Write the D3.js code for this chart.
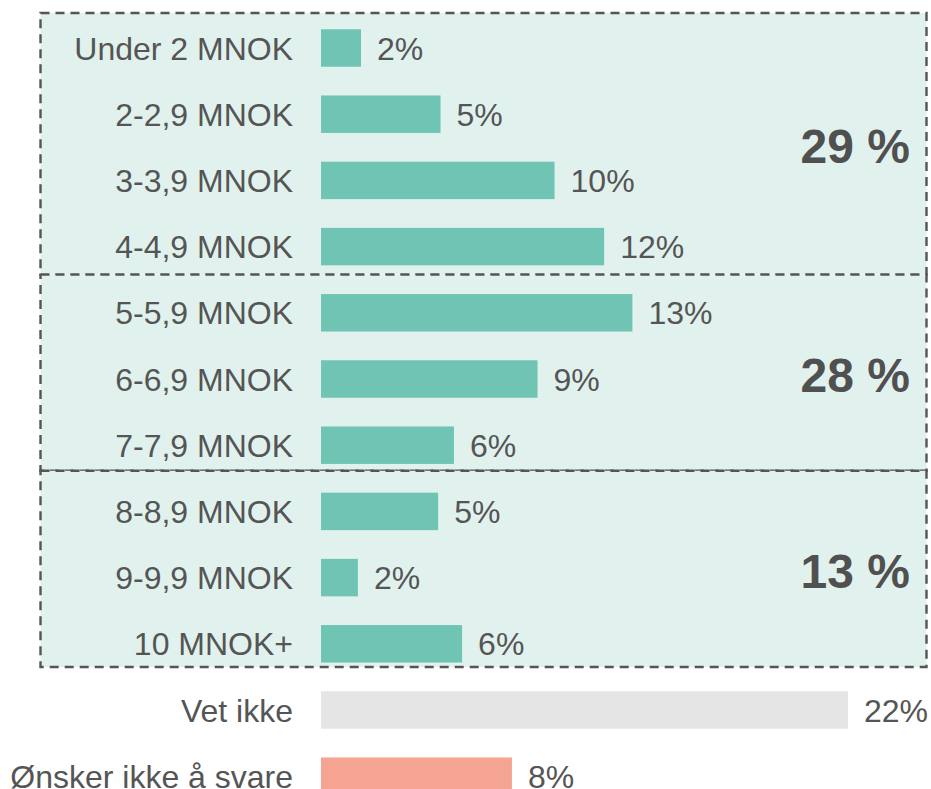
<!DOCTYPE html>
<html>
<head>
<meta charset="utf-8">
<script src="https://cdn.jsdelivr.net/npm/d3@7"></script>
<style>
    body { margin: 0; background: #fff; }
    svg { display: block; font-family: 'Liberation Sans', Arial, sans-serif; }
    .cat-label, .value-label { font-size: 32px; fill: #555; }
    .group-label { font-size: 48px; font-weight: bold; fill: #505050; }
    .group-box { fill: #e1f2ee; stroke: #555; stroke-width: 2.4; stroke-dasharray: 9 6; }
</style>
</head>
<body>
<svg id="chart"></svg>
<script>
// income categories and share of respondents (%)
const categories = [
    'Under 2 MNOK', '2-2,9 MNOK', '3-3,9 MNOK', '4-4,9 MNOK',
    '5-5,9 MNOK', '6-6,9 MNOK', '7-7,9 MNOK',
    '8-8,9 MNOK', '9-9,9 MNOK', '10 MNOK+',
    'Vet ikke', 'Ønsker ikke å svare'
];
const values = [1.67, 4.99, 9.75, 11.82, 13.0, 9.04, 5.55, 4.89, 1.54, 5.89, 22.0, 7.97];
const kinds = ['inc', 'inc', 'inc', 'inc', 'inc', 'inc', 'inc', 'inc', 'inc', 'inc', 'dk', 'na'];

// dashed groups: first row index and number of rows
const groupStarts = [0, 4, 7];
const groupSizes = [4, 3, 3];

class BarChart {

    constructor(_config, _data) {
        this.config = {
            parentElement: _config.parentElement,
            containerWidth: _config.containerWidth || 931,
            containerHeight: _config.containerHeight || 789
        }
        this.data = _data;
        this.initVis();
    }

    initVis() {
        let vis = this;

        vis.svg = d3.select(vis.config.parentElement)
            .attr('width', vis.config.containerWidth)
            .attr('height', vis.config.containerHeight);

        // bars start here
        vis.x0 = 321;

        vis.xScale = d3.scaleLinear()
            .range([0, 527]);

        vis.yScale = d3.scaleBand()
            .range([14.9, 809.3])
            .paddingInner(0.434)
            .paddingOuter(0.217);

        // the dashed boxes follow a slightly tighter row pitch than the bars
        vis.boxScale = d3.scaleLinear()
            .domain([0, 10])
            .range([13, 667]);

        vis.colour = d3.scaleOrdinal()
            .domain(['inc', 'dk', 'na'])
            .range(['#70c4b4', '#e5e5e5', '#f5a492']);

        vis.boxG = vis.svg.append('g');
        vis.chart = vis.svg.append('g');

        vis.updateVis();
    }

    updateVis() {
        let vis = this;

        vis.xScale.domain([0, d3.max(vis.data, d => d.value)]);
        vis.yScale.domain(vis.data.map(d => d.category));

        // group totals are sums of the rounded shares
        vis.groups = groupStarts.map((s, i) => ({
            start: s,
            size: groupSizes[i],
            total: d3.sum(vis.data.slice(s, s + groupSizes[i]), d => Math.round(d.value))
        }));

        vis.renderVis();
    }

    renderVis() {
        let vis = this;

        // dashed group boxes
        vis.boxG.selectAll('.group-box')
            .data(vis.groups)
            .join('rect')
            .attr('class', 'group-box')
            .attr('x', 40.5)
            .attr('width', 886)
            .attr('y', d => vis.boxScale(d.start))
            .attr('height', d => vis.boxScale(d.start + d.size) - vis.boxScale(d.start));

        vis.boxG.selectAll('.group-label')
            .data(vis.groups)
            .join('text')
            .attr('class', 'group-label')
            .attr('x', 910)
            .attr('y', d => (vis.boxScale(d.start) + vis.boxScale(d.start + d.size)) / 2 + 2)
            .attr('dy', '0.35em')
            .attr('text-anchor', 'end')
            .text(d => `${d.total} %`);

        // bars
        vis.chart.selectAll('.bar')
            .data(vis.data)
            .join('rect')
            .attr('class', 'bar')
            .attr('x', vis.x0)
            .attr('y', d => vis.yScale(d.category))
            .attr('width', d => vis.xScale(d.value))
            .attr('height', vis.yScale.bandwidth())
            .attr('fill', d => vis.colour(d.kind));

        // category labels
        vis.chart.selectAll('.cat-label')
            .data(vis.data)
            .join('text')
            .attr('class', 'cat-label')
            .attr('x', 293)
            .attr('y', d => vis.yScale(d.category) + vis.yScale.bandwidth() / 2)
            .attr('dy', '0.36em')
            .attr('text-anchor', 'end')
            .text(d => d.category);

        // value labels
        vis.chart.selectAll('.value-label')
            .data(vis.data)
            .join('text')
            .attr('class', 'value-label')
            .attr('x', d => vis.x0 + vis.xScale(d.value) + 16)
            .attr('y', d => vis.yScale(d.category) + vis.yScale.bandwidth() / 2)
            .attr('dy', '0.36em')
            .text(d => `${Math.round(d.value)}%`);
    }
}

const data = categories.map((c, i) => ({ category: c, value: values[i], kind: kinds[i] }));

new BarChart({ parentElement: '#chart' }, data);
</script>
</body>
</html>
